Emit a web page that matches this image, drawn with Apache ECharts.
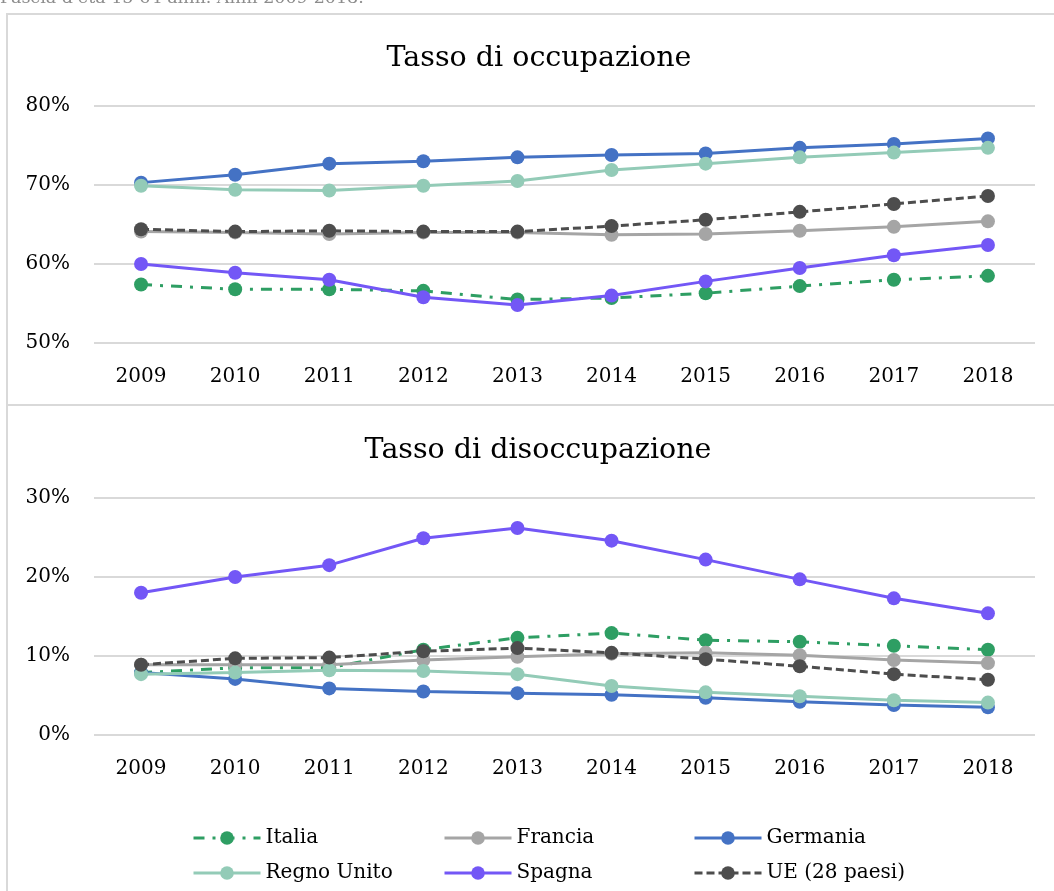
<!DOCTYPE html>
<html>
<head>
<meta charset="utf-8">
<script src="https://cdn.jsdelivr.net/npm/echarts@6/dist/echarts.min.js"></script>
<style>
html,body{margin:0;padding:0;background:#fff;}
#c{width:1054px;height:891px;}
</style>
</head>
<body>
<div id="c"></div>
<script>
const years = ['2009','2010','2011','2012','2013','2014','2015','2016','2017','2018'];
const seriesNames = ['Italia','Francia','Germania','Regno Unito','Spagna','UE (28 paesi)'];

// Tasso di occupazione (%)
const occItalia   = [57.4, 56.8, 56.8, 56.6, 55.5, 55.7, 56.3, 57.2, 58.0, 58.5];
const occFrancia  = [64.1, 64.0, 63.8, 64.0, 64.0, 63.7, 63.8, 64.2, 64.7, 65.4];
const occGermania = [70.3, 71.3, 72.7, 73.0, 73.5, 73.8, 74.0, 74.7, 75.2, 75.9];
const occRegno    = [69.9, 69.4, 69.3, 69.9, 70.5, 71.9, 72.7, 73.5, 74.1, 74.7];
const occSpagna   = [60.0, 58.9, 58.0, 55.8, 54.8, 56.0, 57.8, 59.5, 61.1, 62.4];
const occUE       = [64.4, 64.1, 64.2, 64.1, 64.1, 64.8, 65.6, 66.6, 67.6, 68.6];

// Tasso di disoccupazione (%)
const disItalia   = [7.9, 8.5, 8.5, 10.8, 12.3, 12.9, 12.0, 11.8, 11.3, 10.8];
const disFrancia  = [8.9, 8.9, 8.9, 9.5, 9.9, 10.3, 10.4, 10.1, 9.5, 9.1];
const disGermania = [7.9, 7.1, 5.9, 5.5, 5.3, 5.1, 4.7, 4.2, 3.8, 3.5];
const disRegno    = [7.7, 7.9, 8.2, 8.1, 7.7, 6.2, 5.4, 4.9, 4.4, 4.1];
const disSpagna   = [18.0, 20.0, 21.5, 24.9, 26.2, 24.6, 22.2, 19.7, 17.3, 15.4];
const disUE       = [8.9, 9.7, 9.8, 10.6, 11.0, 10.4, 9.6, 8.7, 7.7, 7.0];

const occTicks = {min: 50, max: 80, interval: 10};
const disTicks = {min: 0, max: 30, interval: 10};

const FONT = '"DejaVu Serif", serif';
const colors = ['#2e9e63', '#a5a5a5', '#4472c4', '#93cbb7', '#7357f6', '#4d4d4d'];
const lineTypes = [[11, 8, 3, 8], 'solid', 'solid', 'solid', 'solid', [8, 4]];
const occData = [occItalia, occFrancia, occGermania, occRegno, occSpagna, occUE];
const disData = [disItalia, disFrancia, disGermania, disRegno, disSpagna, disUE];

function mkSeries(idx, data) {
  return seriesNames.map((n, i) => ({
    name: n, type: 'line', xAxisIndex: idx, yAxisIndex: idx,
    data: data[i], symbol: 'circle', symbolSize: 14, showSymbol: true,
    itemStyle: {color: colors[i]},
    lineStyle: {color: colors[i], width: 3, type: lineTypes[i]},
    animation: false
  }));
}

function xAx(idx) {
  return {
    type: 'category', gridIndex: idx, data: years, boundaryGap: true,
    axisLine: {show: false}, axisTick: {show: false},
    axisLabel: {fontFamily: FONT, fontSize: 20, color: '#000', margin: 24}
  };
}
function yAx(idx, t) {
  return {
    type: 'value', gridIndex: idx, min: t.min, max: t.max, interval: t.interval,
    axisLine: {show: false}, axisTick: {show: false},
    axisLabel: {fontFamily: FONT, fontSize: 20, color: '#000', margin: 24, formatter: '{value}%'},
    splitLine: {show: true, lineStyle: {color: '#d9d9d9', width: 2}}
  };
}
function legendCol(left, names) {
  return {
    orient: 'vertical', left: left, top: 823, itemWidth: 67, itemHeight: 17, itemGap: 15,
    data: names, textStyle: {fontFamily: FONT, fontSize: 20, color: '#000', lineHeight: 20},
    lineStyle: {width: 3},
    selectedMode: false
  };
}

const chart = echarts.init(document.getElementById('c'), null, {renderer: 'canvas'});
chart.setOption({
  backgroundColor: '#fff',
  animation: false,
  graphic: [
    {type: 'text', left: 0, top: -11, style: {text: "Fascia d'età 15-64 anni. Anni 2009-2018.", font: '17.5px ' + FONT, fill: '#8c8c8c'}},
    {type: 'rect', shape: {x: 7, y: 14, width: 1100, height: 1000}, style: {fill: 'none', stroke: '#d9d9d9', lineWidth: 2}, z: -1},
    {type: 'line', shape: {x1: 7, y1: 405, x2: 1054, y2: 405}, style: {stroke: '#d9d9d9', lineWidth: 2}, z: -1}
  ],
  title: [
    {text: 'Tasso di occupazione', left: 534, top: 39, textAlign: 'center',
     textStyle: {fontFamily: FONT, fontSize: 28.5, fontWeight: 'normal', color: '#000'}},
    {text: 'Tasso di disoccupazione', left: 533, top: 431, textAlign: 'center',
     textStyle: {fontFamily: FONT, fontSize: 28.5, fontWeight: 'normal', color: '#000'}}
  ],
  legend: [
    legendCol(187, ['Italia', 'Regno Unito']),
    legendCol(438, ['Francia', 'Spagna']),
    legendCol(688, ['Germania', 'UE (28 paesi)'])
  ],
  grid: [
    {left: 94, right: 19, top: 106, height: 237},
    {left: 94, right: 19, top: 498, height: 237}
  ],
  xAxis: [xAx(0), xAx(1)],
  yAxis: [yAx(0, occTicks), yAx(1, disTicks)],
  series: mkSeries(0, occData).concat(mkSeries(1, disData))
});
</script>
</body>
</html>
